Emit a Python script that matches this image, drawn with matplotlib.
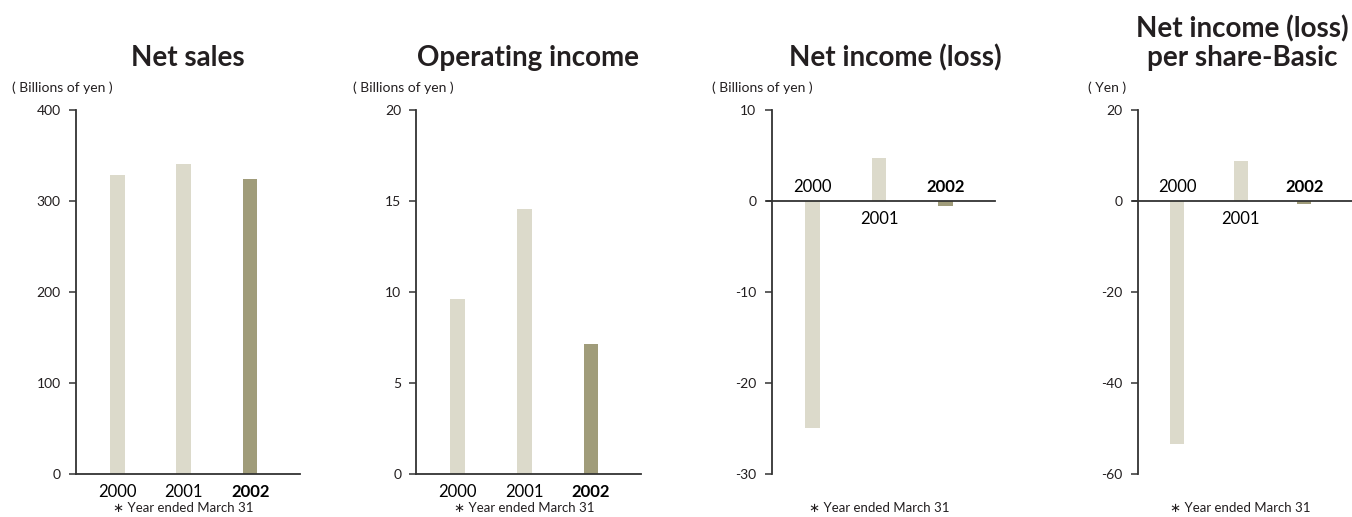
import matplotlib
matplotlib.use("Agg")
import matplotlib.pyplot as plt
import matplotlib.transforms as mtransforms

years = ["2000", "2001", "2002"]
net_sales = [329, 341, 324]
operating_income = [9.6, 14.55, 7.15]
net_income = [-24.9, 4.7, -0.5]
eps_basic = [-53.3, 8.7, -0.6]

titles = ["Net sales", "Operating income", "Net income (loss)", "Net income (loss)\nper share-Basic"]
units = ["( Billions of yen )", "( Billions of yen )", "( Billions of yen )", "( Yen )"]
yticks = [[0, 100, 200, 300, 400], [0, 5, 10, 15, 20], [-30, -20, -10, 0, 10], [-60, -40, -20, 0, 20]]
ylims = [(0, 400), (0, 20), (-30, 10), (-60, 20)]
footnote = "\u2217 Year ended March 31"

LIGHT = "#dcdacb"
DARK = "#a09c7a"
AX = "#333333"
TXT = "#231f20"

plt.rcParams['font.family'] = ['Lato', 'DejaVu Sans']

W, H = 1352, 517
fig = plt.figure(figsize=(W / 100, H / 100), dpi=100)

boxes = [(76, 300), (416.5, 641), (771.5, 995), (1137.5, 1352)]
top_px, bot_px = 110, 474
title_x = [188, 528, 895, 1242]
title_y = [58, 58, 58, 43]
unit_x = [12, 353, 712, 1088]
series = [net_sales, operating_income, net_income, eps_basic]

for k in range(4):
    l, r = boxes[k]
    ax = fig.add_axes([l / W, 1 - bot_px / H, (r - l) / W, (bot_px - top_px) / H])
    vals = series[k]
    colors = [LIGHT, LIGHT, DARK]
    xs = list(range(len(years)))
    ax.bar(xs, vals, width=0.22, color=colors, zorder=2)
    ax.set_xlim(-0.62, 2.75)
    ax.set_ylim(*ylims[k])
    ax.set_yticks(yticks[k])
    ax.set_yticklabels([str(v) for v in yticks[k]], fontsize=10, color=TXT)
    ax.tick_params(axis='y', length=5, width=1.1, color=AX, pad=6, direction='out')
    ax.set_xticks([])
    for s in ['top', 'right']:
        ax.spines[s].set_visible(False)
    ax.spines['left'].set_color(AX)
    ax.spines['left'].set_linewidth(1.3)
    if k < 2:
        ax.spines['bottom'].set_color(AX)
        ax.spines['bottom'].set_linewidth(1.3)
        tr = mtransforms.blended_transform_factory(ax.transData, fig.transFigure)
        for i, y in enumerate(years):
            ax.text(i, 1 - 492 / H, y, transform=tr, ha='center', va='center', fontsize=12,
                    fontweight='bold' if i == 2 else 'normal', color='black')
    else:
        ax.spines['bottom'].set_visible(False)
        ax.axhline(0, color=AX, linewidth=1.3, zorder=3, xmin=-0.02, clip_on=False)
        for i, y in enumerate(years):
            off = -12 if (i == 1) else 11
            ax.annotate(y, (i, 0), xytext=(0, off), textcoords='offset points', ha='center',
                        va='center_baseline', fontsize=12, fontweight='bold' if i == 2 else 'normal', color='black')
    tr = mtransforms.blended_transform_factory(ax.transData, fig.transFigure)
    ax.text(1.0, 1 - 508 / H, footnote, transform=tr, ha='center', va='center', fontsize=9.5, color=TXT)
    fig.text(title_x[k] / W, 1 - title_y[k] / H, titles[k], ha='center', va='center', fontsize=20,
             fontweight='bold', color=TXT, linespacing=1.1)
    fig.text(unit_x[k] / W, 1 - 88 / H, units[k], ha='left', va='center', fontsize=10, color=TXT)

fig.savefig("out.png", dpi=100)
